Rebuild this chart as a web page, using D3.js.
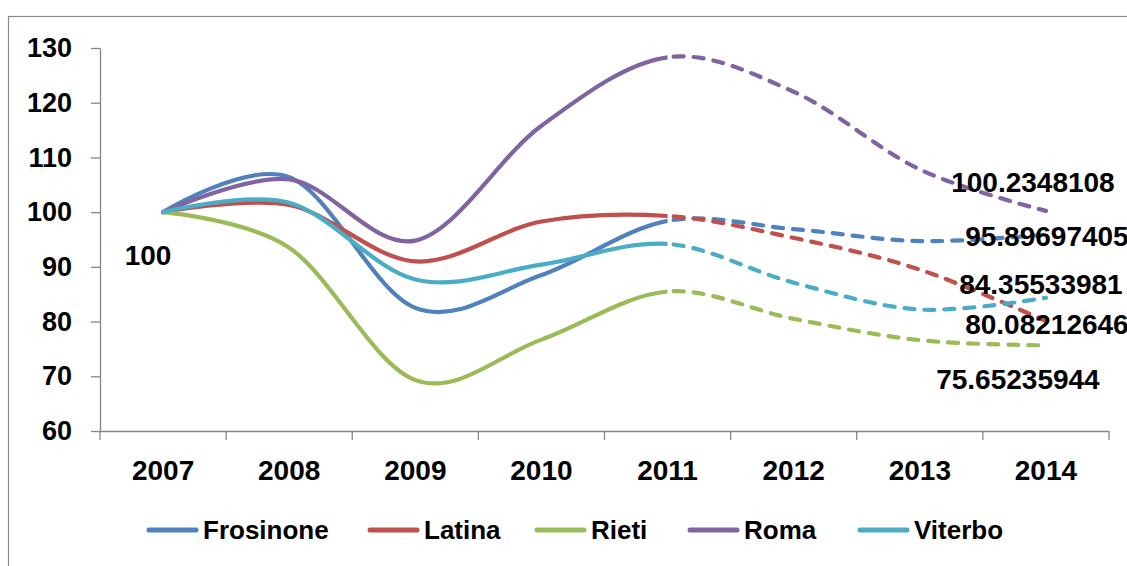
<!DOCTYPE html>
<html><head><meta charset="utf-8">
<script src="https://cdn.jsdelivr.net/npm/d3@7"></script>
<style>
body{margin:0;background:#fff;}
svg{display:block;font-family:"Liberation Sans",Arial,sans-serif;font-weight:bold;}
</style>
</head><body>
<svg id="c" width="1127" height="566"></svg>
<script>
// ---- data ----
const years = ["2007","2008","2009","2010","2011","2012","2013","2014"];
const seriesNames = ["Frosinone","Latina","Rieti","Roma","Viterbo"];
const seriesColors = ["#4F81BD","#C0504D","#9BBB59","#8064A2","#4BACC6"];
const actualYears = ["2007","2008","2009","2010","2011"];
const frosinoneActual = [100, 106.4, 82.5, 88.5, 98.4];
const latinaActual    = [100, 101.3, 91.0, 98.3, 99.3];
const rietiActual     = [100, 93.5, 69.3, 76.7, 85.5];
const romaActual      = [100, 106.0, 94.8, 115.8, 128.3];
const viterboActual   = [100, 101.7, 87.7, 90.4, 94.2];
const forecastYears = ["2011","2012","2013","2014"];
const frosinoneForecast = [98.4, 96.9, 94.7, 95.89697405];
const latinaForecast    = [99.3, 95.3, 89.5, 80.08212646];
const rietiForecast     = [85.5, 80.5, 76.6, 75.65235944];
const romaForecast      = [128.3, 122.0, 107.8, 100.2348108];
const viterboForecast   = [94.2, 87.1, 82.2, 84.35533981];
const yTicks = [60, 70, 80, 90, 100, 110, 120, 130];

const actual = [frosinoneActual, latinaActual, rietiActual, romaActual, viterboActual];
const forecast = [frosinoneForecast, latinaForecast, rietiForecast, romaForecast, viterboForecast];

// ---- layout ----
const svg = d3.select("#c");
const L = 100, R = 1109, T = 48, B = 431;
const x = d3.scaleBand().domain(years).range([L, R]).paddingInner(0).paddingOuter(0);
const cx = d => x(d) + x.bandwidth() / 2;
const y = d3.scaleLinear().domain([60, 130]).range([B, T]);
const axisColor = "#868686";

// outer border
svg.append("rect").attr("x", 8.5).attr("y", 16.5).attr("width", 1300).attr("height", 700)
  .attr("fill", "none").attr("stroke", "#8a8a8a").attr("stroke-width", 1.2);

// y axis
const ya = svg.append("g").attr("transform", `translate(${L},0)`)
  .call(d3.axisLeft(y).tickValues(yTicks).tickSize(9).tickPadding(19).tickSizeOuter(0));
ya.select(".domain").attr("stroke", axisColor).attr("stroke-width", 1.3);
ya.selectAll(".tick line").attr("stroke", axisColor).attr("stroke-width", 1.3);
ya.selectAll(".tick text").attr("font-size", 27).attr("font-family", "Liberation Sans").attr("font-weight", "bold").attr("fill", "#000");

// x axis
const xa = svg.append("g").attr("transform", `translate(0,${B})`)
  .call(d3.axisBottom(x).tickSize(0).tickPadding(29).tickSizeOuter(0));
xa.select(".domain").attr("stroke", axisColor).attr("stroke-width", 1.3);
xa.selectAll(".tick text").attr("font-size", 28).attr("font-family", "Liberation Sans").attr("font-weight", "bold").attr("fill", "#000");
const edges = years.map(d => x(d)).concat([x(years[years.length - 1]) + x.bandwidth()]);
svg.append("g").selectAll("line").data(edges).join("line")
  .attr("x1", d => d).attr("x2", d => d).attr("y1", B).attr("y2", B + 9)
  .attr("stroke", axisColor).attr("stroke-width", 1.3);

// clip regions: solid up to 2011, dashed from 2011
const splitX = cx("2011");
const defs = svg.append("defs");
defs.append("clipPath").attr("id", "clipSolid").append("rect")
  .attr("x", 0).attr("y", 0).attr("width", splitX).attr("height", 566);
defs.append("clipPath").attr("id", "clipDash").append("rect")
  .attr("x", splitX).attr("y", 0).attr("width", 1127 - splitX).attr("height", 566);

// lines: one smooth curve per province, solid part then dashed part
const line = d3.line().curve(d3.curveCatmullRom.alpha(0));
const gSolid = svg.append("g").attr("clip-path", "url(#clipSolid)");
const gDash = svg.append("g").attr("clip-path", "url(#clipDash)");
actual.forEach((vals, i) => {
  const pts = vals.map((v, j) => [cx(actualYears[j]), y(v)])
    .concat(forecast[i].slice(1).map((v, j) => [cx(forecastYears[j + 1]), y(v)]));
  const d = line(pts);
  gSolid.append("path").attr("d", d)
    .attr("fill", "none").attr("stroke", seriesColors[i]).attr("stroke-width", 4.2)
    .attr("stroke-linecap", "round").attr("stroke-linejoin", "round");
  const p = gDash.append("path").attr("d", d)
    .attr("fill", "none").attr("stroke", seriesColors[i]).attr("stroke-width", 4.2)
    .attr("stroke-linecap", "round");
  // find path length at the split point so the dash pattern starts there
  const node = p.node();
  let lo = 0, hi = node.getTotalLength();
  for (let k = 0; k < 40; k++) {
    const mid = (lo + hi) / 2;
    if (node.getPointAtLength(mid).x < splitX) lo = mid; else hi = mid;
  }
  p.attr("stroke-dasharray", "10,10").attr("stroke-dashoffset", 14 - lo);
});

// data labels
const labelOffsets = {Frosinone: [1, 2], Latina: [1, 3], Rieti: [-28, 34], Roma: [-13, -28], Viterbo: [-5, -13]};
const gLab = svg.append("g").attr("font-size", 28).attr("fill", "#000");
forecast.forEach((vals, i) => {
  const v = vals[vals.length - 1];
  const off = labelOffsets[seriesNames[i]];
  gLab.append("text")
    .attr("x", cx(forecastYears[forecastYears.length - 1]) + off[0])
    .attr("y", y(v) + off[1])
    .attr("text-anchor", "middle").attr("dominant-baseline", "central")
    .text(String(v));
});
gLab.append("text")
  .attr("x", cx(actualYears[0]) - 15).attr("y", y(rietiActual[0]) + 43)
  .attr("text-anchor", "middle").attr("dominant-baseline", "central")
  .text(String(rietiActual[0]));

// legend
const legendX = [147, 368, 535, 688, 858];
const gLeg = svg.append("g").attr("transform", "translate(0,530)");
seriesNames.forEach((n, i) => {
  const g = gLeg.append("g").attr("transform", `translate(${legendX[i]},0)`);
  g.append("line").attr("x1", 2).attr("x2", 49).attr("y1", 0).attr("y2", 0)
    .attr("stroke", seriesColors[i]).attr("stroke-width", 5).attr("stroke-linecap", "round");
  g.append("text").attr("x", 56).attr("y", 0).attr("dominant-baseline", "central")
    .attr("font-size", 26).attr("fill", "#000").text(n);
});
</script>
</body></html>
